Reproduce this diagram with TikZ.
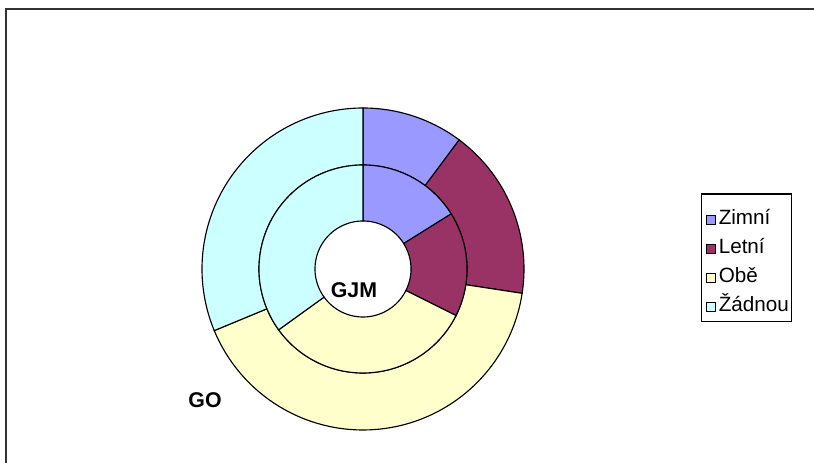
\documentclass[tikz,border=0pt]{standalone}
\usepackage{fontspec}
\setmainfont{Liberation Sans}
\usepackage{tikz}
\usepackage{xcolor}
\usetikzlibrary{calc}

\definecolor{zimni}{HTML}{9999FF}
\definecolor{letni}{HTML}{993366}
\definecolor{obe}{HTML}{FFFFCC}
\definecolor{zadnou}{HTML}{CCFFFF}

\begin{document}
\begin{tikzpicture}[x=.75pt,y=.75pt,
  ringlabel/.style={font=\fontsize{16}{19}\selectfont\bfseries, inner sep=0pt},
  legtext/.style={font=\fontsize{15.5}{18}\selectfont, inner sep=0pt, anchor=base west}]

\useasboundingbox (-363,-194) rectangle (451,269);

\draw[line width=.06cm, black!80] (-357,-194) -- (-357,260) -- (451,260);

% outer ring (GO)
\filldraw[line width=.03cm, fill=zimni] plot [domain=90:53.3, variable=\theta,samples=50]({161*cos(\theta)},{161*sin(\theta)})
-- plot [domain=53.3:90, variable=\theta,samples=50]({104*cos(\theta)},{104*sin(\theta)}) -- cycle;

\filldraw[line width=.03cm, fill=letni] plot [domain=53.3:-8.7, variable=\theta,samples=50]({161*cos(\theta)},{161*sin(\theta)})
-- plot [domain=-8.7:53.3, variable=\theta,samples=50]({104*cos(\theta)},{104*sin(\theta)}) -- cycle;

\filldraw[line width=.03cm, fill=obe] plot [domain=-8.7:-157.5, variable=\theta,samples=80]({161*cos(\theta)},{161*sin(\theta)})
-- plot [domain=-157.5:-8.7, variable=\theta,samples=80]({104*cos(\theta)},{104*sin(\theta)}) -- cycle;

\filldraw[line width=.03cm, fill=zadnou] plot [domain=-157.5:-270, variable=\theta,samples=80]({161*cos(\theta)},{161*sin(\theta)})
-- plot [domain=-270:-157.5, variable=\theta,samples=80]({104*cos(\theta)},{104*sin(\theta)}) -- cycle;

% inner ring (GJM)
\filldraw[line width=.03cm, fill=zimni] plot [domain=90:32, variable=\theta,samples=50]({104*cos(\theta)},{104*sin(\theta)})
-- plot [domain=32:90, variable=\theta,samples=50]({48*cos(\theta)},{48*sin(\theta)}) -- cycle;

\filldraw[line width=.03cm, fill=letni] plot [domain=32:-26.6, variable=\theta,samples=50]({104*cos(\theta)},{104*sin(\theta)})
-- plot [domain=-26.6:32, variable=\theta,samples=50]({48*cos(\theta)},{48*sin(\theta)}) -- cycle;

\filldraw[line width=.03cm, fill=obe] plot [domain=-26.6:-144.2, variable=\theta,samples=80]({104*cos(\theta)},{104*sin(\theta)})
-- plot [domain=-144.2:-26.6, variable=\theta,samples=80]({48*cos(\theta)},{48*sin(\theta)}) -- cycle;

\filldraw[line width=.03cm, fill=zadnou] plot [domain=-144.2:-270, variable=\theta,samples=80]({104*cos(\theta)},{104*sin(\theta)})
-- plot [domain=-270:-144.2, variable=\theta,samples=80]({48*cos(\theta)},{48*sin(\theta)}) -- cycle;

\node[ringlabel] (gjm) at (-9,-21) {GJM};
\node[ringlabel] (go) at (-158,-131) {GO};

% legend
\draw[line width=.03cm] (338.7,75) rectangle (428.7,-52.7);

\filldraw[line width=.02cm, fill=zimni] (343.5,44.5) rectangle (352.5,53.5);
\node[legtext] (zimni) at (355.5,44) {Zimní};

\filldraw[line width=.02cm, fill=letni] (343.5,15.5) rectangle (352.5,24.5);
\node[legtext] (letni) at (355.5,15) {Letní};

\filldraw[line width=.02cm, fill=obe] (343.5,-13.5) rectangle (352.5,-4.5);
\node[legtext] (obe) at (355.5,-14) {Obě};

\filldraw[line width=.02cm, fill=zadnou] (343.5,-42.5) rectangle (352.5,-33.5);
\node[legtext] (zadnou) at (355.5,-43) {Žádnou};

\end{tikzpicture}
\end{document}
